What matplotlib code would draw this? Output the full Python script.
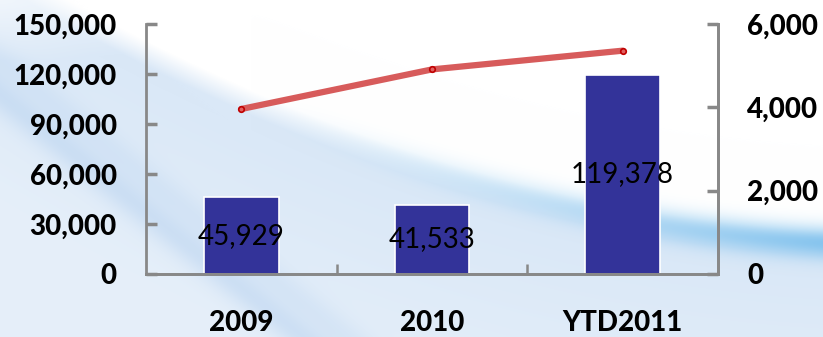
import numpy as np
import matplotlib.pyplot as plt
from matplotlib.ticker import FuncFormatter, MultipleLocator

# Units by year (bars, left axis) and average value (line, right axis)
categories = ['2009', '2010', 'YTD2011']
units = [45929, 41533, 119378]
avg_value = [3960, 4910, 5360]

W, H = 823, 337
fig = plt.figure(figsize=(W / 100, H / 100), dpi=100)

# Soft blue swoosh backdrop
yy, xx = np.mgrid[0:H, 0:W].astype(float)
curve = -40 + 0.6 * xx - 0.00033 * xx ** 2
below = np.clip((yy - curve) / 25.0, 0, 1)
img = np.ones((H, W, 3))
light = np.array([218, 232, 247]) / 255
img = img * (1 - below[..., None]) + light * below[..., None]
# lighten towards the bottom of the lower area
fade = np.clip((yy - curve - 40) / 200.0, 0, 1) * 0.3
img = img * (1 - fade[..., None]) + fade[..., None]
# main streak along the curve, stronger to the right
band = np.exp(-((yy - curve - 12) / 16.0) ** 2) * np.clip((xx - 250) / 573, 0, 1) ** 1.3
streak = np.array([110, 185, 235]) / 255
img = img * (1 - 0.8 * band[..., None]) + streak * 0.8 * band[..., None]
# faint diagonal streaks on the left
for off, amt in ((95, 0.35), (60, 0.2)):
    d = (yy - (off + 0.8 * xx)) / np.hypot(1, 0.8)
    band2 = np.exp(-(d / 16.0) ** 2) * amt
    streak2 = np.array([165, 198, 235]) / 255
    img = img * (1 - band2[..., None]) + streak2 * band2[..., None]
# whitish top-left corner
corner = np.clip(1 - np.hypot(xx / 260, yy / 60), 0, 1) * 0.6
img = img * (1 - corner[..., None]) + corner[..., None]

bg = fig.add_axes([0, 0, 1, 1], zorder=0)
bg.imshow(np.clip(img, 0, 1), aspect='auto', extent=(0, W, H, 0))
bg.axis('off')

ax = fig.add_axes([146 / W, 1 - 274 / H, (718 - 146) / W, (274 - 24) / H], zorder=1)
ax.patch.set_alpha(0)
x = np.arange(len(categories))

bars = ax.bar(x, units, width=0.39, color='#333399', edgecolor='white', linewidth=1.2, zorder=2)
for xi, v in zip(x, units):
    ax.text(xi, v / 2, f'{v:,}', ha='center', va='center', fontsize=20,
            family='Lato', color='black', zorder=5)

ax.set_xlim(-0.5, 2.5)
ax.set_ylim(0, 150000)
ax.yaxis.set_major_locator(MultipleLocator(30000))
ax.yaxis.set_major_formatter(FuncFormatter(lambda v, p: f'{v:,.0f}'))
ax.set_xticks([0.5, 1.5])
ax.set_xticks(x, minor=True)
ax.set_xticklabels([], minor=False)
ax.set_xticklabels(categories, minor=True)
ax.tick_params(axis='x', which='major', direction='in', length=7, width=1.8, color='#888888')
ax.tick_params(axis='x', which='minor', length=0, pad=26)
ax.tick_params(axis='y', direction='in', length=8, width=2.5, color='#888888', pad=21)

ax2 = ax.twinx()
ax2.set_ylim(0, 6000)
ax2.yaxis.set_major_locator(MultipleLocator(2000))
ax2.yaxis.set_major_formatter(FuncFormatter(lambda v, p: f'{v:,.0f}'))
ax2.tick_params(axis='y', direction='in', length=8, width=2.5, color='#888888', pad=21)
ax2.plot(x, avg_value, color='#d75b5b', lw=4.5, solid_capstyle='round', zorder=3,
         marker='o', ms=4, mfc='#e06060', mec='#c00000', mew=1.2)

for a in (ax, ax2):
    for s in a.spines.values():
        s.set_color('#888888')
        s.set_linewidth(2)
    a.spines['top'].set_visible(False)
    for lab in a.get_xticklabels(minor=True) + a.get_yticklabels():
        lab.set_family('Lato')
        lab.set_fontweight(900)
        lab.set_fontsize(20)
ax2.spines['left'].set_visible(False)

fig.savefig('out.png', dpi=100)
